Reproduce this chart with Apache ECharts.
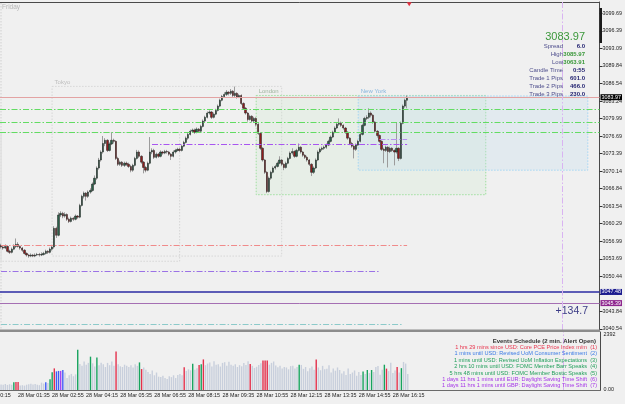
<!DOCTYPE html>
<html>
<head>
<meta charset="utf-8">
<script src="https://cdn.jsdelivr.net/npm/echarts@6/dist/echarts.min.js"></script>
<style>
  html, body { margin: 0; padding: 0; background: #f0f0f0; }
  #main { width: 625px; height: 404px; }
</style>
</head>
<body>
<div id="main"></div>
<script>
// XAUUSD M5, 28 Mar — bars from 01:00 to 16:55 (server time)
const firstBar = '01:00';       // first candle, first category
const slotCount = 282;
const firstLabel = '01:35';
const cutLabel = '28 Mar 00:15'; // label that sits off the left edge

// [open, close, low, high]
const bars = [
  [3056.2,3055.9,3055.6,3056.5],[3055.9,3055.7,3055.4,3056.2],[3055.7,3056.0,3055.5,3056.4],[3056.0,3055.1,3054.9,3056.2],
  [3055.1,3054.9,3054.6,3055.4],[3054.9,3055.5,3054.7,3055.8],[3055.5,3056.0,3055.3,3056.4],[3056.0,3056.4,3055.7,3057.5],
  [3056.4,3056.0,3055.8,3056.8],[3056.0,3055.7,3055.4,3056.2],[3055.7,3055.3,3055.0,3055.9],[3055.3,3054.7,3054.5,3055.5],
  [3054.7,3054.4,3054.1,3054.9],[3054.4,3054.2,3053.9,3054.6],[3054.2,3054.4,3054.0,3054.7],[3054.4,3054.2,3054.0,3054.6],
  [3054.2,3054.4,3054.0,3054.7],[3054.4,3054.5,3054.2,3054.8],[3054.5,3054.4,3054.1,3054.8],[3054.4,3054.5,3054.2,3054.9],
  [3054.5,3054.7,3054.3,3055.0],[3054.7,3055.1,3054.5,3055.4],[3055.1,3054.9,3054.6,3055.3],[3054.9,3055.5,3054.7,3055.8],
  [3055.5,3055.9,3055.2,3056.3],[3055.9,3059.4,3055.6,3059.8],[3059.4,3058.1,3057.6,3059.7],[3058.1,3061.9,3057.9,3062.4],
  [3061.9,3062.2,3061.5,3062.6],[3062.2,3061.7,3061.3,3062.5],[3061.7,3062.0,3061.4,3062.4],[3062.0,3061.1,3060.8,3062.2],
  [3061.1,3060.7,3060.4,3061.4],[3060.7,3061.3,3060.5,3061.6],[3061.3,3061.1,3060.8,3061.5],[3061.1,3061.7,3060.9,3062.0],
  [3061.7,3061.5,3061.2,3061.9],[3061.5,3063.7,3061.3,3064.0],[3063.7,3065.4,3063.5,3065.7],[3065.4,3066.0,3065.0,3066.3],
  [3066.0,3065.4,3064.6,3066.2],[3065.4,3066.2,3065.1,3066.5],[3066.2,3066.5,3065.9,3066.9],[3066.5,3067.7,3066.3,3068.0],
  [3067.7,3068.8,3067.5,3069.3],[3068.8,3070.7,3068.5,3071.0],[3070.7,3072.2,3070.4,3072.6],[3072.2,3073.7,3071.9,3074.0],
  [3073.7,3075.3,3073.4,3076.7],[3075.3,3075.9,3074.8,3076.3],[3075.9,3074.0,3073.7,3076.1],[3074.0,3075.2,3073.8,3075.5],
  [3075.2,3075.9,3075.0,3077.4],[3075.9,3075.7,3075.3,3076.2],[3075.7,3072.5,3072.2,3075.9],[3072.5,3071.4,3071.1,3072.8],
  [3071.4,3071.8,3071.1,3072.1],[3071.8,3071.2,3070.9,3072.0],[3071.2,3071.6,3070.9,3071.9],[3071.6,3071.4,3071.1,3071.9],
  [3071.4,3071.0,3070.7,3071.7],[3071.0,3070.3,3069.9,3071.3],[3070.3,3071.2,3070.0,3071.5],[3071.2,3072.5,3071.0,3072.8],
  [3072.5,3073.7,3072.3,3074.1],[3073.7,3072.9,3072.6,3074.0],[3072.9,3071.8,3071.5,3073.1],[3071.8,3070.8,3069.7,3072.0],
  [3070.8,3070.3,3069.9,3071.1],[3070.3,3071.6,3070.1,3071.9],[3071.6,3073.7,3071.4,3076.5],[3073.7,3074.0,3073.3,3074.4],
  [3074.0,3072.7,3072.4,3074.3],[3072.7,3073.3,3072.5,3073.6],[3073.3,3072.9,3072.6,3073.5],[3072.9,3073.7,3072.7,3074.0],
  [3073.7,3073.5,3073.2,3073.9],[3073.5,3073.8,3073.3,3074.1],[3073.8,3073.7,3073.4,3074.1],[3073.7,3073.3,3073.0,3073.9],
  [3073.3,3072.9,3072.2,3073.5],[3072.9,3073.7,3072.7,3074.0],[3073.7,3074.0,3073.4,3074.3],[3074.0,3074.2,3073.8,3074.5],
  [3074.2,3074.0,3073.7,3074.5],[3074.0,3074.8,3073.8,3075.1],[3074.8,3075.5,3074.6,3075.8],[3075.5,3076.3,3075.3,3076.6],
  [3076.3,3077.0,3076.0,3077.3],[3077.0,3077.6,3076.8,3077.9],[3077.6,3077.8,3077.3,3078.1],[3077.8,3077.4,3077.1,3078.1],
  [3077.4,3078.0,3077.2,3078.3],[3078.0,3077.6,3077.3,3078.2],[3077.6,3078.5,3077.4,3078.8],[3078.5,3079.5,3078.3,3079.8],
  [3079.5,3080.2,3079.2,3080.5],[3080.2,3081.0,3080.0,3081.3],[3081.0,3081.2,3080.7,3081.5],[3081.2,3080.2,3079.9,3081.4],
  [3080.2,3080.8,3080.0,3081.1],[3080.8,3081.5,3080.6,3081.8],[3081.5,3082.3,3081.3,3082.6],[3082.3,3083.4,3082.1,3083.7],
  [3083.4,3084.1,3083.2,3084.4],[3084.1,3084.5,3083.9,3084.9],[3084.5,3084.9,3084.2,3085.3],[3084.9,3084.7,3084.3,3085.1],
  [3084.7,3085.1,3084.4,3085.5],[3085.1,3084.3,3084.0,3085.3],[3084.3,3084.7,3084.0,3085.97],[3084.7,3084.0,3083.7,3084.9],
  [3084.0,3084.3,3083.8,3084.6],[3084.3,3082.8,3082.5,3084.5],[3082.8,3081.9,3081.6,3083.0],[3081.9,3081.0,3080.7,3082.1],
  [3081.0,3079.8,3079.4,3081.2],[3079.8,3080.4,3079.6,3080.7],[3080.4,3079.5,3079.2,3080.6],[3079.5,3080.0,3079.2,3080.3],
  [3080.0,3078.9,3078.5,3080.2],[3078.9,3077.2,3076.9,3079.1],[3077.2,3074.4,3074.1,3077.4],[3074.4,3072.2,3071.9,3074.6],
  [3072.2,3069.9,3069.6,3072.4],[3069.9,3066.3,3066.0,3070.1],[3066.3,3068.8,3066.1,3069.1],[3068.8,3069.9,3068.5,3070.2],
  [3069.9,3070.7,3069.7,3071.0],[3070.7,3071.0,3070.4,3071.3],[3071.0,3071.6,3070.8,3071.9],[3071.6,3072.2,3071.4,3072.9],
  [3072.2,3071.4,3071.1,3072.4],[3071.4,3070.8,3070.3,3071.6],[3070.8,3071.6,3070.6,3071.9],[3071.6,3072.5,3071.4,3072.8],
  [3072.5,3073.5,3072.3,3073.8],[3073.5,3073.8,3073.2,3074.4],[3073.8,3072.9,3072.6,3074.0],[3072.9,3074.0,3072.7,3074.3],
  [3074.0,3074.6,3073.8,3075.3],[3074.6,3073.7,3073.4,3074.8],[3073.7,3073.1,3072.8,3073.9],[3073.1,3072.7,3072.4,3073.3],
  [3072.7,3072.2,3071.9,3073.0],[3072.2,3071.4,3071.1,3072.4],[3071.4,3069.9,3069.2,3071.6],[3069.9,3070.7,3069.6,3071.0],
  [3070.7,3072.2,3070.5,3072.5],[3072.2,3073.7,3072.0,3074.0],[3073.7,3074.2,3073.4,3074.5],[3074.2,3074.4,3073.9,3074.7],
  [3074.4,3074.6,3074.1,3074.9],[3074.6,3075.0,3074.3,3075.3],[3075.0,3075.7,3074.8,3076.0],[3075.7,3076.5,3075.5,3076.8],
  [3076.5,3077.4,3076.3,3077.7],[3077.4,3078.2,3077.2,3078.5],[3078.2,3078.9,3078.0,3079.3],[3078.9,3079.1,3078.6,3080.0],
  [3079.1,3078.7,3078.4,3079.4],[3078.7,3078.2,3077.9,3078.9],[3078.2,3077.4,3077.1,3078.4],[3077.4,3076.3,3076.0,3077.6],
  [3076.3,3075.3,3075.0,3076.5],[3075.3,3074.8,3074.5,3075.6],[3074.8,3074.2,3072.5,3075.0],[3074.2,3075.0,3073.9,3075.3],
  [3075.0,3075.7,3074.8,3076.0],[3075.7,3077.0,3075.5,3077.3],[3077.0,3078.7,3076.8,3079.0],[3078.7,3080.0,3078.5,3080.3],
  [3080.0,3080.2,3079.7,3080.6],[3080.2,3081.0,3079.9,3081.9],[3081.0,3080.6,3080.2,3081.3],[3080.6,3079.3,3079.0,3080.8],
  [3079.3,3077.6,3077.3,3079.5],[3077.6,3076.8,3076.4,3077.8],[3076.8,3075.7,3075.4,3077.0],[3075.7,3074.2,3073.9,3075.9],
  [3074.2,3074.0,3071.6,3074.5],[3074.0,3074.6,3073.7,3074.9],[3074.6,3073.8,3070.8,3074.8],[3073.8,3074.4,3073.5,3074.7],
  [3074.4,3074.0,3073.7,3074.6],[3074.0,3073.7,3071.2,3074.2],[3073.7,3074.4,3073.4,3079.3],[3074.4,3072.5,3072.0,3074.6],
  [3072.5,3079.1,3072.3,3079.4],[3079.1,3082.3,3078.9,3082.6],[3082.3,3083.4,3082.0,3083.7],[3083.4,3083.97,3081.9,3084.3]
];

const volumes = [
  240,230,260,220,250,230,340,350,350,200, 210,190,230,250,270,240,260,230,210,320,
  280,340,300,470,770,940,810,830,830,870, 760,520,640,700,600,680,1750,1130,1050,1240,
  1100,1180,1450,1160,1020,1410,1080,1180,1120,1000, 1180,1080,1240,1060,1670,1120,1030,1000,1100,1050,
  1000,1080,980,1120,1050,1200,910,980,880,780, 700,850,640,760,580,560,620,520,480,600,
  560,640,520,650,700,640,990,830,900,860, 1140,880,950,1090,1120,1330,1080,1150,1200,1020,
  1250,1100,1120,1020,1180,1210,1050,1230,1100,1050, 1120,1000,1080,1030,1170,1090,1250,1130,1050,960,
  1010,1090,1160,1280,1280,1280,1100,1180,1240,1070, 990,1060,930,1000,980,900,1040,1060,940,1000,
  1100,1090,920,1000,820,950,1020,880,1330,980, 860,1050,900,920,1080,760,930,840,980,870,
  720,820,650,940,700,760,850,620,780,650, 800,700,870,740,870,780,1000,1040,660,880,
  1100,930,820,1180,740,850,1000,760,950,1220, 1150,700
];
const volGreen = [6, 23, 24, 36, 42, 45, 65, 90, 94, 140, 170, 172, 174, 180, 188];
const volRed = [7, 8, 25, 54, 66, 86, 93, 95, 117, 123, 124, 125, 148, 181, 186];
const volBlue = [21, 26, 27, 29];
const volPurple = [28];
const volTicks = [0, 2392];

const priceTicks = [3099.69, 3096.39, 3093.09, 3089.84, 3086.54, 3083.24, 3079.99, 3076.69, 3073.39,
  3070.14, 3066.84, 3063.54, 3060.29, 3056.99, 3053.69, 3050.44, 3047.14, 3043.84, 3040.54];

const bidPrice = 3083.97;
const greenLevels = [3081.71, 3079.27, 3077.34];
const bluePivot = 3047.48;
const purplePivot = 3045.39;
// partial levels: [price, from, to]
const purpleLevel = [3075.2, '06:55', '16:55'];
const purpleShort = [3076.09, '15:50', '16:55'];
const redLevel = [3056.23, '01:00', '16:55'];
const violetLevel = [3051.36, '01:00', '15:50'];
const tealLevel = [3041.37, '01:00', '16:45'];

// sessions: [name, from, to, high, low]
const sessions = [
  ['', '01:00', '08:00', 3077.34, 3053.23],
  ['Tokyo', '03:00', '12:00', 3086.0, 3054.2],
  ['London', '11:00', '20:00', 3084.3, 3065.7],
  ['New York', '15:00', '24:00', 3084.2, 3070.3]
];
const dayEnd = '23:00';

const infoLabels = ['Spread', 'High', 'Low', 'Candle Time', 'Trade 1 Pips', 'Trade 2 Pips', 'Trade 3 Pips'];
const infoValues = ['6.0', '3085.97', '3063.91', '0:55', '601.0', '466.0', '230.0'];
const profitText = '+134.7';

const eventsTitle = 'Events Schedule (2 min. Alert Open)';
const eventLines = [
  '1 hrs 29 mins since USD: Core PCE Price Index m/m',
  '1 mins until USD: Revised UoM Consumer Sentiment',
  '1 mins until USD: Revised UoM Inflation Expectations',
  '2 hrs 10 mins until USD: FOMC Member Barr Speaks',
  '5 hrs 48 mins until USD: FOMC Member Bostic Speaks',
  '1 days 11 hrs 1 mins until EUR: Daylight Saving Time Shift',
  '1 days 11 hrs 1 mins until GBP: Daylight Saving Time Shift'
];
const eventColors = ['#e8364f', '#3b7be6', '#23a05c', '#23a05c', '#23a05c', '#a433e8', '#a433e8'];

// ---- build axis categories
function toMin(t) { const p = t.split(':'); return +p[0] * 60 + +p[1]; }
function pad2(n) { return (n < 10 ? '0' : '') + n; }
const categories = [];
for (let k = 0; k < slotCount; k++) {
  const m = toMin(firstBar) + k * 5;
  const day = 28 + Math.floor(m / 1440);
  const mm = m % 1440;
  categories.push(day + ' Mar ' + pad2(Math.floor(mm / 60)) + ':' + pad2(mm % 60));
}
function slot(t) { return (toMin(t) - toMin(firstBar)) / 5; }
const lastK = bars.length - 1;
const labelStart = slot(firstLabel);
const labelEvery = idx => idx >= labelStart && (idx - labelStart) % 16 === 0 && idx <= lastK;

const bodyData = bars.map(b => [b[0], b[1], Math.min(b[0], b[1]), Math.max(b[0], b[1])]);

function volColor(i) {
  if (volGreen.includes(i)) return '#17a35e';
  if (volRed.includes(i)) return '#e3304c';
  if (volBlue.includes(i)) return '#3f5cf6';
  if (volPurple.includes(i)) return '#a443f2';
  return '#c8cfdc';
}
const volData = volumes.map((v, i) => ({ value: v, itemStyle: { color: volColor(i) } }));

const dashDot = [6, 2, 1.5, 2];
const fontFam = 'Liberation Sans';
const tinyFont = 5.4;

function levelLine(price, color, width, type) {
  return { yAxis: price, lineStyle: { color: color, width: width, type: type } };
}
function segLine(lv, color) {
  return [
    { coord: [slot(lv[1]), lv[0]], lineStyle: { color: color, width: 1, type: dashDot } },
    { coord: [slot(lv[2]), lv[0]] }
  ];
}
function axisBox(price, bg, lineColor, lineWidth) {
  return {
    yAxis: price,
    lineStyle: { color: lineColor, width: lineWidth, type: 'solid' },
    label: {
      show: true, position: 'end', distance: 1, formatter: price.toFixed(2),
      backgroundColor: bg, color: '#ffffff', fontSize: tinyFont, fontFamily: fontFam, padding: [1, 1, 0, 1]
    }
  };
}

const sessionStyles = {
  '': { fill: 'rgba(0,0,0,0)', border: '#d6d6d6', text: '#c0c0c0' },
  'Tokyo': { fill: 'rgba(0,0,0,0)', border: '#d6d6d6', text: '#bdbdbd' },
  'London': { fill: 'rgba(200,232,200,0.22)', border: '#9fdf9f', text: '#9db59d' },
  'New York': { fill: 'rgba(196,222,240,0.30)', border: '#a6d6f3', text: '#86b6de' }
};
const sessionAreas = sessions.map(s => {
  const st = sessionStyles[s[0]];
  return [
    {
      name: s[0], coord: [slot(s[1]), s[3]],
      itemStyle: { color: st.fill, borderColor: st.border, borderWidth: 1, borderType: [1.5, 1.5] },
      label: { show: true, position: [3, -7], color: st.text, fontSize: 6, fontFamily: fontFam }
    },
    { coord: [slot(s[2]), s[4]] }
  ];
});

const rightX = 600;
const graphics = [];
graphics.push({ type: 'rect', shape: { x: 0, y: 329.5, width: rightX, height: 2.5 }, style: { fill: '#8c8c8c' }, z: 10 });
graphics.push({ type: 'rect', shape: { x: rightX - 0.5, y: 8, width: 2.5, height: 35 }, style: { fill: '#1a1a1a' }, z: 10 });
graphics.push({ type: 'line', shape: { x1: 1, y1: 3, x2: 1, y2: 330 }, style: { stroke: '#d0d0d0', lineDash: [1.5, 1.5] }, z: 1 });
graphics.push({ type: 'text', x: 2, y: 7, style: { text: 'Friday', fill: '#b8b8b8', font: '6.5px ' + fontFam, align: 'left', verticalAlign: 'middle' }, z: 10 });
graphics.push({ type: 'text', x: -21, y: 396, style: { text: cutLabel, fill: '#222', font: tinyFont + 'px ' + fontFam, align: 'left', verticalAlign: 'middle' }, z: 10 });
graphics.push({ type: 'text', x: 585, y: 37, style: { text: bidPrice.toFixed(2), fill: '#3b983b', font: '11px ' + fontFam, align: 'right', verticalAlign: 'middle' }, z: 10 });
infoLabels.forEach((t, i) => {
  const y = 46.6 + i * 7.95;
  graphics.push({ type: 'text', x: 563, y: y, style: { text: t, fill: '#4d4d8c', font: '6px ' + fontFam, align: 'right', verticalAlign: 'middle' }, z: 10 });
  graphics.push({ type: 'text', x: 585, y: y, style: { text: infoValues[i], fill: (i === 1 || i === 2) ? '#3b983b' : '#1e1e6e', font: 'bold 6px ' + fontFam, align: 'right', verticalAlign: 'middle' }, z: 10 });
});
graphics.push({ type: 'text', x: 588, y: 311, style: { text: profitText, fill: '#3b3b86', font: '10.5px ' + fontFam, align: 'right', verticalAlign: 'middle' }, z: 10 });
graphics.push({ type: 'text', x: 596, y: 341, style: { text: eventsTitle, fill: '#333333', font: 'bold 6px ' + fontFam, align: 'right', verticalAlign: 'middle' }, z: 10 });
eventLines.forEach((t, i) => {
  const y = 347.4 + i * 6.4;
  graphics.push({ type: 'text', x: 587, y: y, style: { text: t, fill: eventColors[i], font: '5.6px ' + fontFam, align: 'right', verticalAlign: 'middle' }, z: 10 });
  graphics.push({ type: 'text', x: 597, y: y, style: { text: '(' + (i + 1) + ')', fill: eventColors[i], font: '5.6px ' + fontFam, align: 'right', verticalAlign: 'middle' }, z: 10 });
});

const chart = echarts.init(document.getElementById('main'), null, { renderer: 'canvas' });
chart.setOption({
  animation: false,
  backgroundColor: '#f0f0f0',
  textStyle: { fontFamily: fontFam },
  grid: [
    { left: 0, right: 24.5, top: 2, height: 328 },
    { left: 0, right: 24.5, top: 332, height: 58 }
  ],
  xAxis: [
    {
      type: 'category', gridIndex: 0, data: categories, position: 'top', boundaryGap: true,
      axisLine: { lineStyle: { color: '#4a4a4a' } }, axisTick: { show: false }, axisLabel: { show: false }
    },
    {
      type: 'category', gridIndex: 1, data: categories, boundaryGap: true,
      axisLine: { lineStyle: { color: '#6a6a6a' } },
      axisTick: { interval: labelEvery, alignWithLabel: true, length: 7, lineStyle: { color: '#333' } },
      axisLabel: { interval: labelEvery, align: 'left', margin: 3, padding: [0, 0, 0, 2], fontSize: tinyFont, color: '#222' }
    }
  ],
  yAxis: [
    {
      type: 'value', gridIndex: 0, position: 'right', min: 3040.35, max: 3101.81,
      splitLine: { show: false },
      axisLine: { show: true, lineStyle: { color: '#4a4a4a' } },
      axisTick: { show: true, length: 3, customValues: priceTicks, lineStyle: { color: '#333' } },
      axisLabel: { customValues: priceTicks, formatter: v => v.toFixed(2), fontSize: tinyFont, margin: 3, color: '#222' }
    },
    {
      type: 'value', gridIndex: 1, position: 'right', min: 0, max: 2522.5,
      splitLine: { show: false },
      axisLine: { show: true, lineStyle: { color: '#4a4a4a' } },
      axisTick: { show: false },
      axisLabel: { customValues: volTicks, formatter: v => (v === 0 ? '0.00' : String(v)), fontSize: tinyFont, margin: 3, color: '#222' }
    }
  ],
  series: [
    {
      type: 'candlestick', name: 'wicks', xAxisIndex: 0, yAxisIndex: 0, data: bars, barWidth: 1,
      itemStyle: { color: '#9c9c9c', color0: '#9c9c9c', borderColor: '#9c9c9c', borderColor0: '#9c9c9c', borderWidth: 1 },
      markArea: { silent: true, data: sessionAreas }
    },
    {
      type: 'candlestick', name: 'bodies', xAxisIndex: 0, yAxisIndex: 0, data: bodyData, barWidth: 1.8, z: 3,
      itemStyle: { color: '#2b6049', color0: '#8e1d1d', borderColor: '#1e1e1e', borderColor0: '#1e1e1e', borderWidth: 0.5 },
      markLine: {
        silent: true, symbol: 'none', label: { show: false },
        data: [
          axisBox(bidPrice, '#000000', '#e3a3a3', 1),
          levelLine(greenLevels[0], '#63dc63', 1, dashDot),
          levelLine(greenLevels[1], '#63dc63', 1, dashDot),
          levelLine(greenLevels[2], '#63dc63', 1, dashDot),
          segLine(purpleLevel, '#a855f0'),
          segLine(purpleShort, '#b98ef0'),
          segLine(redLevel, '#f08a8a'),
          segLine(violetLevel, '#9b72e6'),
          segLine(tealLevel, '#8ccaca'),
          axisBox(bluePivot, '#1b1b8f', '#2b2ba3', 1.5),
          axisBox(purplePivot, '#8e268e', '#a56fb3', 1),
          { xAxis: slot(dayEnd), lineStyle: { color: '#d9b3f2', width: 1, type: dashDot } }
        ]
      },
      markPoint: {
        silent: true, symbol: 'triangle', symbolSize: [5, 4], symbolRotate: 180,
        itemStyle: { color: '#e3303f' }, label: { show: false },
        data: [{ coord: [lastK + 1, 3101.4] }]
      }
    },
    {
      type: 'bar', name: 'volume', xAxisIndex: 1, yAxisIndex: 1, data: volData, barWidth: 1.4,
      markLine: {
        silent: true, symbol: 'none', label: { show: false },
        data: [{ xAxis: slot(dayEnd), lineStyle: { color: '#d9b3f2', width: 1, type: dashDot } }]
      }
    }
  ],
  graphic: graphics
});
</script>
</body>
</html>
